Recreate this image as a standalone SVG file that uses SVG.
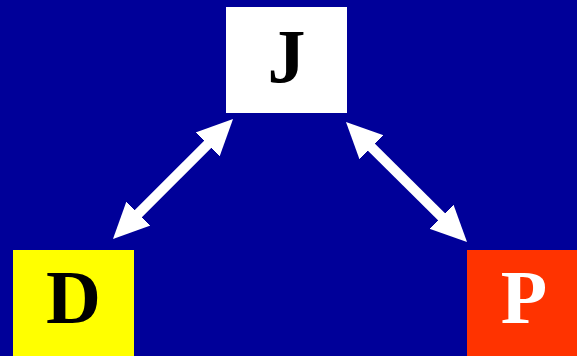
<svg xmlns="http://www.w3.org/2000/svg" width="577" height="356" viewBox="0 0 577 356">
<style>
.lbl{font-family:"Liberation Serif","Times New Roman",serif;font-weight:bold;font-size:76px;text-anchor:middle}
.conn{stroke:#fff;stroke-width:10;fill:none}
</style>
<defs>
<marker id="ah" markerUnits="userSpaceOnUse" markerWidth="40" markerHeight="40" viewBox="0 -20 40 40" refX="4" refY="0" orient="auto-start-reverse">
<path d="M0,-17 L36,0 L0,17 z" fill="#fff"/>
</marker>
</defs>
<rect width="577" height="356" fill="#000099"/>
<g id="J"><rect x="226" y="7" width="121" height="106" fill="#fff"/><text class="lbl" x="286.5" y="82" fill="#000">J</text></g>
<g id="D"><rect x="13" y="250" width="121" height="106" fill="#ffff00"/><text class="lbl" x="73.5" y="323" fill="#000">D</text></g>
<g id="P"><rect x="467" y="250" width="110" height="106" fill="#ff3300"/><text class="lbl" x="524" y="323" fill="#fff">P</text></g>
<g id="connectors">
<line class="conn" x1="210.4" y1="141.6" x2="135.6" y2="216.4" marker-start="url(#ah)" marker-end="url(#ah)"/>
<line class="conn" x1="368.7" y1="144.5" x2="444.3" y2="219.5" marker-start="url(#ah)" marker-end="url(#ah)"/>
</g>
</svg>
